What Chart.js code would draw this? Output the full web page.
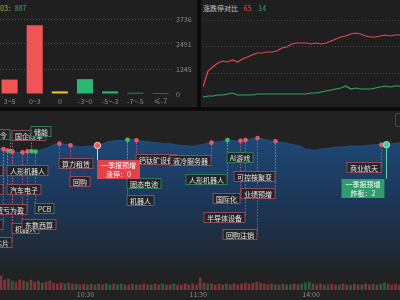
<!DOCTYPE html>
<html>
<head>
<meta charset="utf-8">
<script src="https://cdn.jsdelivr.net/npm/chart.js@4/dist/chart.umd.min.js"></script>
<style>
  html, body { margin: 0; padding: 0; }
  body { width: 400px; height: 300px; background: #0b0b0b; position: relative; overflow: hidden;
         font-family: "Noto Sans CJK SC", "Noto Sans", sans-serif; }
  .panel { position: absolute; background: #1f1f1f; }
  canvas { position: absolute; }
  .head { position: absolute; font-size: 7px; line-height: 9px; white-space: nowrap; }
  .btn { position: absolute; border: 1px solid #4a4a4a; border-radius: 2px; }
</style>
</head>
<body>
<div class="panel" style="left:0;top:0;width:197px;height:107px"></div>
<div class="panel" style="left:201px;top:0;width:199px;height:107px"></div>
<div class="panel" style="left:0;top:111px;width:400px;height:189px;background:#222"></div>

<div class="head" style="left:0;top:4px"><span style="color:#d6a23c">03：</span><span style="color:#2fa86a">887</span></div>
<div class="head" style="left:203px;top:4px"><span style="color:#c8c8c8">涨跌停对比</span>
  <span style="color:#e8474d;margin-left:4px">65</span><span style="color:#2fa86a;margin-left:7px">14</span></div>
<div class="btn" style="left:395px;top:113px;width:10px;height:12px"></div>

<canvas id="distChart" width="200" height="107" style="left:-3px;top:0"></canvas>
<canvas id="limitChart" width="199" height="107" style="left:201px;top:0"></canvas>
<canvas id="trendChart" width="400" height="189" style="left:0;top:111px"></canvas>

<script>
// 涨跌分布
const distLabels = ["3~5", "0~3", "0", "-3~0", "-5~-3", "-7~-5", "≤-7"];
const distCounts = [720, 3420, 130, 740, 130, 60, 50];
const distTicks = [0, 1245, 2491, 3736];

// 涨跌停对比 (分钟, 家数)
const limitStep = 6;
const limitUp = [13, 29, 33, 37, 39, 38, 40, 38, 41, 43, 45, 47, 47, 48, 48, 49, 52, 53, 56, 57, 57,
                 57, 56, 57, 56, 57, 59, 61, 63, 64, 66, 67, 66, 64, 63, 63, 64, 65, 64, 65, 65];
const limitDown = [3, 4, 4, 5, 5, 6, 7, 5, 5, 5, 5, 6, 6, 6, 6, 6, 6, 6, 6, 6, 6,
                   6, 7, 7, 8, 9, 10, 11, 12, 14, 11, 12, 11, 11, 11, 12, 13, 14, 13, 14, 14];

// 分时走势
const priceStart = 12, priceStep = 3;
const priceVals = [71.25, 70.75, 69.75, 69.25, 68.65, 68.9, 69.5, 69.25, 70, 70.75, 72, 73.25, 73, 72.6,
                   72, 71.5, 71.75, 72, 72.25, 73, 74.2, 74.5, 74.75, 75, 75.25, 74.85, 74.5, 74.2,
                   73.65, 73.5, 73, 73.2, 72.5, 72.35, 72, 71.9, 72.35, 72.9, 73.5, 74, 74.2, 75,
                   74.75, 74.5, 74.85, 75.4, 76, 75.9, 75.1, 74.5, 74.25, 73.7, 73.15, 72.5, 72,
                   70.5, 70, 70, 70.5, 70.75, 71.2, 71.5, 71.5, 72, 71.9, 72, 72.15, 72.5, 72.75,
                   72.5, 73, 73.35, 73.5];
const volStart = 15, volStep = 2;
const volVals = [700, 500, 550, 450, 400, 500, 450, 400, 500, 400, 450, 350, 400, 450, 350, 300, 350, 300,
                 350, 300, 300, 250, 300, 250, 300, 250, 300, 250, 300, 250, 300, 250, 300, 250, 250, 300,
                 250, 250, 300, 250, 250, 300, 250, 300, 250, 250, 300, 250, 250, 300, 250, 300, 250, 600,
                 350, 300, 300, 250, 300, 250, 300, 250, 300, 250, 300, 350, 300, 350, 400, 350, 300, 250,
                 300, 250, 250, 300, 250, 250, 300, 250, 300, 350, 400, 300, 250, 300, 250, 250, 300, 250,
                 250, 300, 250, 250, 300, 250, 250, 300, 250, 300, 250, 300, 350, 300, 250, 300, 250];
const volDir = [1, 1, 1, -1, 1, 1, 1, -1, 1, 1, 1, -1, 1, 1, 1, 1, 1, -1, 1, 1, -1, 1, 1, -1, 1, -1, 1, 1,
                -1, -1, 1, -1, -1, 1, 1, 1, -1, 1, 1, 1, -1, 1, 1, -1, 1, 1, -1, 1, 1, 1, 1, 1, 1, 1,
                1, -1, 1, 1, 1, 1, -1, 1, 1, 1, 1, 1, 1, 1, 1, 1, 1, 1, 1, -1, 1, -1, 1, -1, 1, 1,
                -1, -1, -1, 1, 1, 1, -1, 1, 1, 1, -1, 1, 1, -1, 1, 1, -1, 1, 1, -1, 1, -1, -1, 1, 1, 1, 1];
const timeTicks = [60, 120, 180];
const timeTickLabels = ["10:30", "11:30", "14:00"];

// 题材标记
const markerMinutes = [16, 18, 20, 21, 26, 29, 31, 33, 46, 52, 66, 82, 87, 127, 135, 142, 145, 151, 161, 217, 220];
const markerDir = [1, 1, -1, 1, 1, 1, -1, -1, 1, 1, 1, -1, 1, 1, -1, 1, 1, 1, 1, 1, -1];
const tagTexts = ["令", "国企改革", "储能", "长", "人形机器人", "光伏", "汽车电子", "扭亏为盈", "PCB", "略",
                  "机器人", "东数西算", "芯片", "算力租赁", "回购", "钙钛矿设备", "固态电池", "机器人",
                  "液冷服务器", "人形机器人", "AI游戏", "可控核聚变", "国际化", "业绩预增", "半导体设备",
                  "回购注销", "商业航天"];
const tagMarker = [2, 3, 6, 0, 1, 0, 1, 5, 7, 0, 3, 4, 3, 8, 9, 12, 11, 11, 13, 14, 14, 18, 15, 18, 16, 17, 19];
const hotTags = [["一季报预增", "涨停：0"], ["一季报预增", "炸板：2"]];
const hotMarker = [10, 20];

// 标签摆放 (靠线左/右, 距图表顶部)
const tagSide = ["l", "r", "r", "l", "r", "l", "r", "l", "r", "l", "r", "r", "l", "r", "r", "r", "r", "r",
                 "l", "l", "r", "l", "l", "l", "l", "l", "l"];
const tagTop = [18, 19, 15, 54, 54, 73, 73, 93, 92, 108, 112, 108, 126, 47, 65, 43, 67, 84, 44, 63, 41,
                60, 82, 77, 101, 118, 51];
const hotSide = ["r", "l"];
const hotTop = [49, 68];

Chart.defaults.font.family = "'Noto Sans CJK SC', 'Noto Sans', sans-serif";

const UP = "#e8474d", DOWN = "#2fa86a", TEXT = "#8c8c8c";

function rangeColor(label) {
    if (label === "0") return "#e8c13a";
    if (label.startsWith("-") || label.startsWith("≤")) return "#2bb673";
    return "#f05454";
}

// 涨跌分布柱状图
new Chart(document.getElementById("distChart"), {
    type: "bar",
    data: {
        labels: distLabels,
        datasets: [{
            data: distCounts,
            backgroundColor: distLabels.map(rangeColor),
            categoryPercentage: 1,
            barPercentage: 0.64
        }]
    },
    options: {
        responsive: false,
        animation: false,
        layout: { padding: { top: 19 } },
        plugins: { legend: { display: false }, tooltip: { enabled: false } },
        scales: {
            x: {
                grid: { display: false, drawTicks: false },
                border: { display: false },
                ticks: { color: TEXT, font: { size: 7 }, padding: 3, maxRotation: 0 },
                afterFit: s => { s.height = 13; }
            },
            y: {
                position: "right",
                min: 0,
                max: 3736,
                afterBuildTicks: s => { s.ticks = distTicks.map(v => ({ value: v })); },
                grid: { color: c => (c.tick && c.tick.value === 0) ? "transparent" : "#4d4d4d", drawTicks: false },
                border: { display: false, dash: [1, 2] },
                ticks: { color: TEXT, font: { size: 7 }, padding: 3, callback: v => String(v) },
                afterFit: s => { s.width = 24; }
            }
        }
    }
});

// 涨跌停对比折线
const limitTimes = limitUp.map((_, i) => i * limitStep);
new Chart(document.getElementById("limitChart"), {
    type: "line",
    data: {
        datasets: [
            { data: limitTimes.map((t, i) => ({ x: t, y: limitUp[i] })), borderColor: UP, borderWidth: 1.2, pointRadius: 0 },
            { data: limitTimes.map((t, i) => ({ x: t, y: limitDown[i] })), borderColor: DOWN, borderWidth: 1.2, pointRadius: 0 }
        ]
    },
    options: {
        responsive: false,
        animation: false,
        layout: { padding: { left: 2, top: 20, bottom: 7 } },
        plugins: { legend: { display: false }, tooltip: { enabled: false } },
        scales: {
            x: { type: "linear", min: 0, max: 240, display: false },
            y: {
                min: 0,
                max: 80,
                afterBuildTicks: s => { s.ticks = [0, 80 / 3, 160 / 3, 80].map(v => ({ value: v })); },
                grid: { color: c => (c.tick && c.tick.value === 0) ? "transparent" : "#444", drawTicks: false },
                border: { display: false, dash: [1, 2] },
                ticks: { display: false },
                afterFit: s => { s.width = 0; }
            }
        }
    }
});

// 分时走势 + 题材标记
const priceMinutes = priceVals.map((_, i) => priceStart + i * priceStep);
const volMinutes = volVals.map((_, i) => volStart + i * volStep);

function priceAt(m) {
    for (let i = 1; i < priceMinutes.length; i++) {
        if (m <= priceMinutes[i]) {
            const t = (m - priceMinutes[i - 1]) / (priceMinutes[i] - priceMinutes[i - 1]);
            return priceVals[i - 1] + t * (priceVals[i] - priceVals[i - 1]);
        }
    }
    return priceVals[priceVals.length - 1];
}

function areaGradient(context) {
    const { ctx, chartArea } = context.chart;
    if (!chartArea) return "rgba(30,72,118,0.8)";
    const g = ctx.createLinearGradient(0, chartArea.top, 0, chartArea.bottom);
    g.addColorStop(0.15, "#1e4876");
    g.addColorStop(0.5, "#1c3658");
    g.addColorStop(0.76, "#1f2c3b");
    g.addColorStop(0.92, "#222222");
    return g;
}

const tagPlugin = {
    id: "conceptTags",
    afterDatasetsDraw(chart) {
        const { ctx, scales: { x, y } } = chart;
        const pts = markerMinutes.map(m => ({ x: Math.round(x.getPixelForValue(m)) + 0.5, y: y.getPixelForValue(priceAt(m)) }));
        ctx.save();
        ctx.font = "7px 'Noto Sans CJK SC'";
        ctx.textAlign = "center";
        ctx.textBaseline = "middle";

        // 虚线引线
        ctx.lineWidth = 1;
        ctx.setLineDash([1.5, 1.5]);
        tagTexts.forEach((t, i) => {
            const p = pts[tagMarker[i]];
            ctx.strokeStyle = markerDir[tagMarker[i]] > 0 ? "rgba(214,96,116,0.8)" : "rgba(70,185,120,0.8)";
            ctx.beginPath();
            ctx.moveTo(p.x, p.y + 2);
            ctx.lineTo(p.x, tagTop[i] + 5);
            ctx.stroke();
        });
        ctx.setLineDash([]);

        // 标签
        tagTexts.forEach((t, i) => {
            const p = pts[tagMarker[i]];
            const w = Math.round(ctx.measureText(t).width + 6);
            const left = tagSide[i] === "r" ? p.x - 0.5 : p.x - 0.5 - w;
            const top = tagTop[i] + 0.5;
            ctx.fillStyle = "rgba(36,36,38,0.95)";
            ctx.fillRect(left, top, w, 10);
            ctx.strokeStyle = markerDir[tagMarker[i]] > 0 ? "#8e4b5d" : "#2f7d58";
            ctx.strokeRect(left, top, w, 10);
            ctx.fillStyle = "#e6e6e6";
            ctx.fillText(t, left + w / 2, top + 5.5);
        });

        // 重点标签
        hotTags.forEach((lines, i) => {
            const p = pts[hotMarker[i]];
            const up = markerDir[hotMarker[i]] > 0;
            const w = Math.round(Math.max(...lines.map(l => ctx.measureText(l).width)) + 8);
            const h = 19;
            const left = hotSide[i] === "r" ? p.x - 0.5 : p.x - 2 - w;
            ctx.strokeStyle = up ? "#f4c4c8" : "#5fd2a8";
            ctx.beginPath();
            ctx.moveTo(p.x, p.y);
            ctx.lineTo(p.x, hotTop[i]);
            ctx.stroke();
            ctx.fillStyle = up ? "#e3424b" : "#2e9c6c";
            ctx.fillRect(left, hotTop[i], w, h);
            ctx.fillStyle = "#ffffff";
            lines.forEach((l, k) => ctx.fillText(l, left + w / 2, hotTop[i] + 5.5 + k * 8.5));
        });

        // 标记点
        pts.forEach((p, i) => {
            const hot = hotMarker.includes(i);
            ctx.beginPath();
            ctx.arc(p.x, p.y, hot ? 3.2 : 2.3, 0, Math.PI * 2);
            ctx.fillStyle = markerDir[i] > 0 ? "#e45a6c" : (hot ? "#4cc9a0" : "#3cc25e");
            ctx.fill();
            if (hot) {
                ctx.strokeStyle = markerDir[i] > 0 ? "#f6c9cd" : "#9be8cc";
                ctx.stroke();
            }
        });
        ctx.restore();
    }
};

new Chart(document.getElementById("trendChart"), {
    type: "bar",
    data: {
        datasets: [
            {
                type: "line",
                data: priceMinutes.map((m, i) => ({ x: m, y: priceVals[i] })),
                yAxisID: "y",
                fill: "start",
                backgroundColor: areaGradient,
                borderColor: "#234f80",
                borderWidth: 1,
                pointRadius: 0,
                tension: 0,
                order: 2
            },
            {
                type: "bar",
                data: volMinutes.map((m, i) => ({ x: m, y: volVals[i] })),
                yAxisID: "yv",
                backgroundColor: volDir.map(d => d > 0 ? "#7e3538" : "#28603f"),
                barThickness: 2,
                order: 1
            }
        ]
    },
    options: {
        responsive: false,
        animation: false,
        plugins: { legend: { display: false }, tooltip: { enabled: false } },
        scales: {
            x: {
                type: "linear",
                min: 14.5,
                max: 227.3,
                offset: false,
                grid: { display: false, drawTicks: false },
                border: { display: false },
                afterBuildTicks: s => { s.ticks = timeTicks.map(v => ({ value: v })); },
                ticks: {
                    autoSkip: false, maxRotation: 0, color: TEXT, font: { size: 7 }, padding: 0,
                    callback: v => timeTickLabels[timeTicks.indexOf(v)]
                },
                afterFit: s => { s.height = 10; }
            },
            y: { display: false, min: 0, max: 89.5 },
            yv: { display: false, min: 0, max: 8950 }
        }
    },
    plugins: [tagPlugin]
});
</script>
</body>
</html>
